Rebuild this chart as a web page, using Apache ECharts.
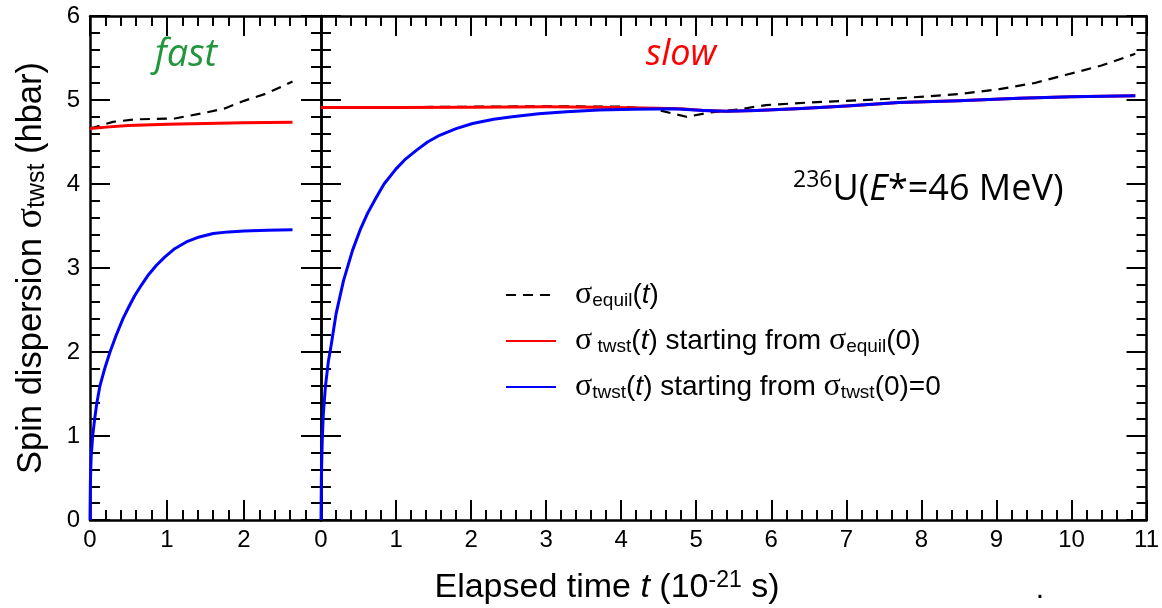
<!DOCTYPE html>
<html><head><meta charset="utf-8">
<script src="https://cdn.jsdelivr.net/npm/echarts@6/dist/echarts.min.js"></script>
<style>html,body{margin:0;padding:0;background:#fff}#c{width:1162px;height:608px}</style>
</head><body><div id="c"></div>
<script>
// ---- data: [t (1e-21 s), sigma (hbar)] ----
const fastEquil = [[0,4.66],[0.3,4.74],[0.6,4.77],[1.1,4.78],[1.45,4.84],[1.75,4.90],[2.0,4.99],[2.3,5.08],[2.63,5.22]];
const fastTwstEq = [[0,4.66],[0.25,4.68],[0.5,4.695],[1,4.71],[1.5,4.72],[2,4.73],[2.63,4.735]];
const fastTwst0 = [[0,0],[0.005,0.45],[0.015,0.75],[0.035,1.0],[0.06,1.2],[0.09,1.4],[0.13,1.6],[0.19,1.8],[0.26,2.0],[0.34,2.2],[0.43,2.4],[0.5,2.53],[0.58,2.67],[0.67,2.8],[0.76,2.92],[0.86,3.03],[0.97,3.13],[1.1,3.23],[1.25,3.31],[1.42,3.37],[1.6,3.41],[1.8,3.43],[2.0,3.44],[2.3,3.45],[2.63,3.455]];
const slowEquil = [[0,4.91],[1,4.915],[2,4.92],[3,4.925],[4,4.92],[4.45,4.89],[4.87,4.80],[5.18,4.85],[5.58,4.89],[5.93,4.94],[6.5,4.97],[7,4.99],[7.7,5.02],[8.5,5.07],[9.04,5.13],[9.5,5.2],[9.93,5.3],[10.4,5.41],[10.85,5.55]];
const slowTwstEq = [[0,4.91],[1,4.91],[2,4.915],[3,4.92],[3.7,4.915],[4.3,4.905],[4.8,4.895],[5.1,4.875],[5.4,4.865],[5.8,4.875],[6.4,4.9],[7,4.93],[7.7,4.97],[8.5,4.99],[9.3,5.02],[10,5.04],[10.85,5.05]];
const slowTwst0 = [[0,0],[0.005,0.5],[0.015,0.9],[0.03,1.25],[0.06,1.6],[0.1,1.9],[0.13,2.05],[0.2,2.45],[0.3,2.85],[0.42,3.21],[0.52,3.45],[0.62,3.65],[0.73,3.83],[0.84,4.0],[1.0,4.18],[1.13,4.3],[1.27,4.4],[1.42,4.5],[1.58,4.58],[1.8,4.66],[2.02,4.72],[2.3,4.77],[2.55,4.8],[2.9,4.835],[3.27,4.86],[3.7,4.88],[4.16,4.89],[4.7,4.895],[5.1,4.875],[5.4,4.865],[5.8,4.875],[6.4,4.9],[7,4.93],[7.7,4.97],[8.5,4.99],[9.3,5.02],[10,5.04],[10.85,5.05]];
const fastXMax = 3, slowXMax = 11, yMax = 6;
const seriesNames = ['equil','twstEq','twst0'];
const legendLabels = {
  equil: '{g|σ}{sub|equil}{n|(}{i|t}{n|)}',
  twstEq: '{g|σ}{sub| twst}{n|(}{i|t}{n|) starting from }{g|σ}{sub|equil}{n|(0)}',
  twst0: '{g|σ}{sub|twst}{n|(}{i|t}{n|) starting from }{g|σ}{sub|twst}{n|(0)=0}'
};

const chart = echarts.init(document.getElementById('c'), null, {renderer:'canvas'});
const AX = {color:'#000', width:2.5};
const TK = {color:'#000', width:2};
function xAx(grid, max, pos, showLabels){
  return {gridIndex:grid, type:'value', min:0, max:max, interval:1, position:pos,
    axisLine:{show:true, onZero:false, lineStyle:AX},
    axisTick:{show:true, inside:true, length:20, lineStyle:TK},
    minorTick:{show:true, splitNumber:5, length:10, lineStyle:TK},
    splitLine:{show:false}, minorSplitLine:{show:false},
    axisLabel:{show:showLabels, fontSize:24, color:'#000', fontFamily:'Liberation Sans', margin:8,
      formatter: v => (grid===0 && v===fastXMax) ? '' : String(v)}};
}
function yAx(grid, pos, showLabels){
  return {gridIndex:grid, type:'value', min:0, max:yMax, interval:1, position:pos,
    axisLine:{show:true, onZero:false, lineStyle:AX},
    axisTick:{show:true, inside:true, length:20, lineStyle:TK},
    minorTick:{show:true, splitNumber:5, length:10, lineStyle:TK},
    splitLine:{show:false}, minorSplitLine:{show:false},
    axisLabel:{show:showLabels, fontSize:24, color:'#000', fontFamily:'Liberation Sans', margin:10}};
}
function line(name, data, xi, yi, color, dashed){
  return {name:name, type:'line', data:data, xAxisIndex:xi, yAxisIndex:yi, showSymbol:false, symbol:'none',
    smooth:false, animation:false, silent:true,
    lineStyle:{color:color, width: dashed?2.2:3, type: dashed?[10,7]:'solid', join:'round'}, itemStyle:{color:color}};
}
const subSt = {fontSize:19, fontFamily:'Liberation Sans', verticalAlign:'bottom', lineHeight:14, color:'#000'};

const option = {
  backgroundColor:'#fff',
  animation:false,
  grid:[{left:90, top:16, width:231, height:504}, {left:321, top:16, width:826, height:504}],
  xAxis:[xAx(0,fastXMax,'bottom',true), xAx(0,fastXMax,'top',false), xAx(1,slowXMax,'bottom',true), xAx(1,slowXMax,'top',false)],
  yAxis:[yAx(0,'left',true), yAx(0,'right',false), yAx(1,'left',false), yAx(1,'right',false)],
  legend:{data:seriesNames, orient:'vertical', left:505, top:279, padding:0, itemWidth:50, itemHeight:14, itemGap:14,
    selectedMode:false, formatter: n => legendLabels[n],
    itemStyle:{opacity:0, color:'rgba(0,0,0,0)', borderWidth:0},
    textStyle:{color:'#000', padding:[0,0,0,14], rich:{
      n:{fontSize:28, fontFamily:'Liberation Sans', lineHeight:30, color:'#000'},
      i:{fontSize:28, fontFamily:'Liberation Sans', fontStyle:'italic', lineHeight:30, color:'#000'},
      g:{fontSize:32, fontFamily:'Liberation Serif', lineHeight:30, color:'#000'},
      sub:subSt}}},
  series:[
    line('equil', fastEquil, 0, 0, '#000', true),
    line('twstEq', fastTwstEq, 0, 0, '#ff0000', false),
    line('twst0', fastTwst0, 0, 0, '#0000ff', false),
    line('equil', slowEquil, 2, 2, '#000', true),
    line('twstEq', slowTwstEq, 2, 2, '#ff0000', false),
    line('twst0', slowTwst0, 2, 2, '#0000ff', false)
  ],
  graphic:[
    {type:'text', x:31, y:268, rotation:Math.PI/2, silent:true, style:{
      text:'{n|Spin dispersion }{g|σ}{s|twst}{n| (hbar)}', align:'center', verticalAlign:'middle',
      rich:{n:{fontSize:34.5, fontFamily:'Liberation Sans', lineHeight:38, color:'#000'},
            g:{fontSize:38, fontFamily:'Liberation Serif', lineHeight:38, color:'#000'},
            s:{fontSize:25, fontFamily:'Liberation Sans', verticalAlign:'bottom', lineHeight:16, color:'#000'}}}},
    {type:'text', x:607, y:588, silent:true, style:{
      text:'{n|Elapsed time }{i|t}{n| (10}{p|-21}{n| s)}', align:'center', verticalAlign:'middle',
      rich:{n:{fontSize:34, fontFamily:'Liberation Sans', lineHeight:38, color:'#000'},
            i:{fontSize:34, fontFamily:'Liberation Sans', fontStyle:'italic', lineHeight:38, color:'#000'},
            p:{fontSize:23, fontFamily:'Liberation Sans', verticalAlign:'top', lineHeight:14, color:'#000'}}}},
    {type:'text', x:1040, y:590, silent:true, style:{text:'.', font:'30px "Liberation Sans"', fill:'#000', align:'center', verticalAlign:'middle'}},
    {type:'text', x:186, y:55, silent:true, style:{text:'fast', font:'italic 38px "Open Sans"', fill:'#22963c', align:'center', verticalAlign:'middle'}},
    {type:'text', x:681, y:55, silent:true, style:{text:'slow', font:'italic 36px "Open Sans"', fill:'#ff0000', align:'center', verticalAlign:'middle'}},
    {type:'text', x:793, y:190, silent:true, style:{
      text:'{p|236}{n|U(}{i|E}{n|*=46 MeV)}', align:'left', verticalAlign:'middle',
      rich:{n:{fontSize:36, fontFamily:'Open Sans', lineHeight:42, color:'#000'},
            i:{fontSize:36, fontFamily:'Open Sans', fontStyle:'italic', lineHeight:42, color:'#000'},
            p:{fontSize:23, fontFamily:'Open Sans', verticalAlign:'top', lineHeight:22, color:'#000'}}}}
  ]
};
chart.setOption(option);
</script></body></html>
